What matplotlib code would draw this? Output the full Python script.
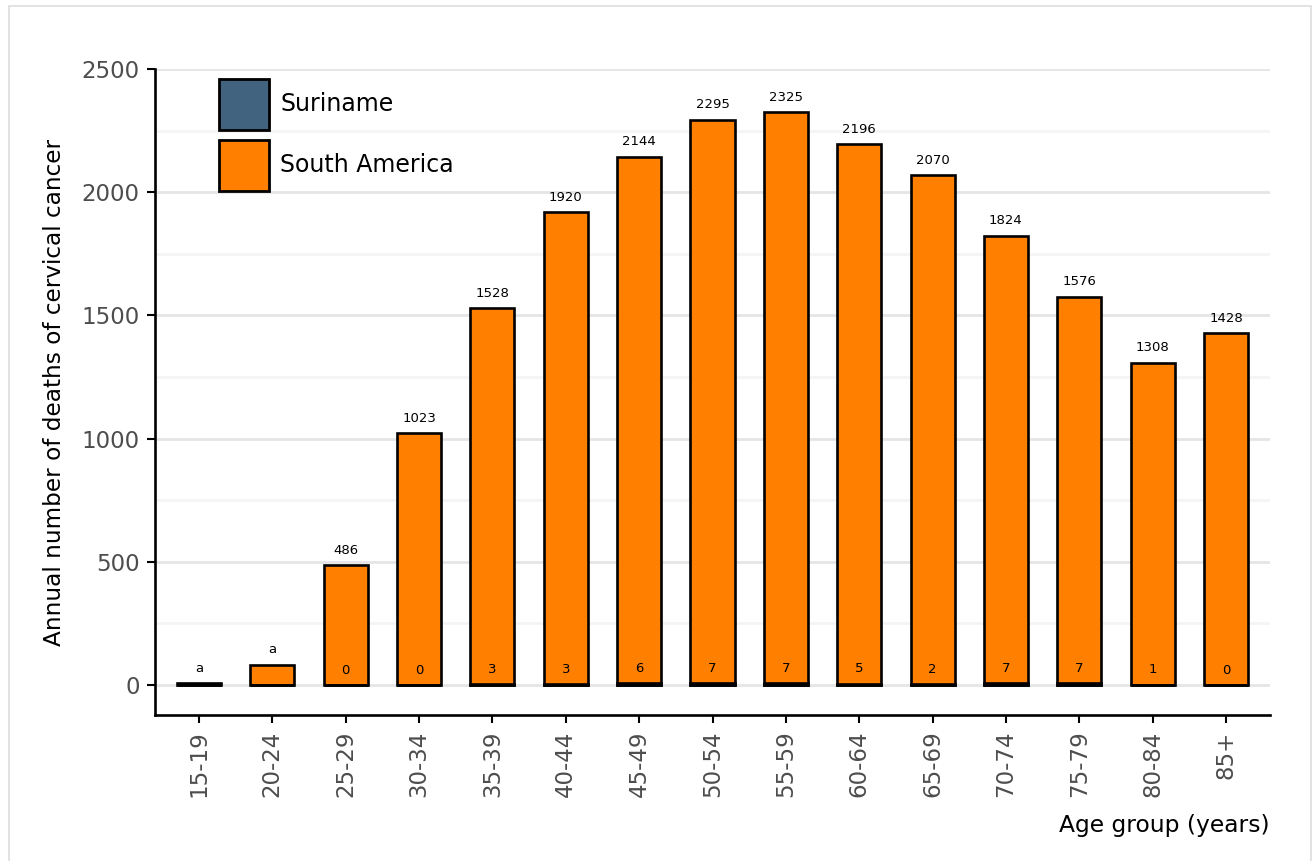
import matplotlib
matplotlib.use("Agg")
import matplotlib.pyplot as plt
from matplotlib.patches import Rectangle, Patch
import numpy as np

age_groups = ["15-19", "20-24", "25-29", "30-34", "35-39", "40-44", "45-49",
              "50-54", "55-59", "60-64", "65-69", "70-74", "75-79", "80-84", "85+"]
south_america = [8, 82, 486, 1023, 1528, 1920, 2144, 2295, 2325, 2196, 2070, 1824, 1576, 1308, 1428]
south_america_labels = ["a", "a", "486", "1023", "1528", "1920", "2144", "2295", "2325",
                        "2196", "2070", "1824", "1576", "1308", "1428"]
suriname = [0, 0, 0, 0, 3, 3, 6, 7, 7, 5, 2, 7, 7, 1, 0]
suriname_labels = ["", "", "0", "0", "3", "3", "6", "7", "7", "5", "2", "7", "7", "1", "0"]

c_sa = "#FF8000"
c_sr = "#41637F"

fig = plt.figure(figsize=(13.12, 8.61), dpi=100)
ax = fig.add_axes([155/1312, 1-715/861, (1270-155)/1312, (715-69)/861])

x = np.arange(len(age_groups))
w = 0.6
ax.bar(x, south_america, width=w, color=c_sa, edgecolor="black", linewidth=1.9, zorder=3)
ax.bar(x, suriname, width=w, color=c_sr, edgecolor="black", linewidth=1.9, zorder=4)

for xi, v, lab in zip(x, south_america, south_america_labels):
    ax.annotate(lab, (xi, v), xytext=(0, 6), textcoords="offset points",
                ha="center", va="bottom", fontsize=9.5, color="black", zorder=5)
for xi, v, lab in zip(x, suriname, suriname_labels):
    if lab:
        ax.annotate(lab, (xi, v), xytext=(0, 6), textcoords="offset points",
                    ha="center", va="bottom", fontsize=9.5, color="black", zorder=5)

ax.set_xlim(-0.6, len(age_groups) - 0.4)
ax.set_ylim(-122, 2500)
ax.set_yticks([0, 500, 1000, 1500, 2000, 2500])
ax.set_yticks([250, 750, 1250, 1750, 2250], minor=True)
ax.set_xticks(x)
ax.set_xticklabels(age_groups, rotation=90)
ax.grid(axis="y", which="major", color="#e5e5e5", linewidth=2, zorder=0)
ax.grid(axis="y", which="minor", color="#f4f4f4", linewidth=2, zorder=0)
ax.set_axisbelow(True)

for s in ["top", "right"]:
    ax.spines[s].set_visible(False)
for s in ["left", "bottom"]:
    ax.spines[s].set_linewidth(1.9)
    ax.spines[s].set_color("black")

ax.tick_params(axis="both", which="major", length=6, width=1.5, color="black",
               labelcolor="#4d4d4d", labelsize=16.5, pad=5)
ax.tick_params(axis="y", which="minor", length=0)

ax.set_ylabel("Annual number of deaths of cervical cancer", fontsize=16.7, color="black", labelpad=11)
ax.set_xlabel("Age group (years)", fontsize=16.8, color="black", loc="right", labelpad=12)

handles = [Patch(facecolor=c_sr, edgecolor="black", linewidth=2),
           Patch(facecolor=c_sa, edgecolor="black", linewidth=2)]
ax.legend(handles, ["Suriname", "South America"], loc="upper left",
          bbox_to_anchor=(0.0574, 0.984), frameon=False, fontsize=17,
          handlelength=2.1, handleheight=2.9, labelspacing=0.45,
          borderpad=0, borderaxespad=0, handletextpad=0.5)

fig.patches.append(Rectangle((9/1312, -0.1), (1311-9)/1312, 1.1 - 6/861,
                             transform=fig.transFigure, fill=False,
                             edgecolor="#dddddd", linewidth=1.2))

fig.savefig("out.png", dpi=100)
